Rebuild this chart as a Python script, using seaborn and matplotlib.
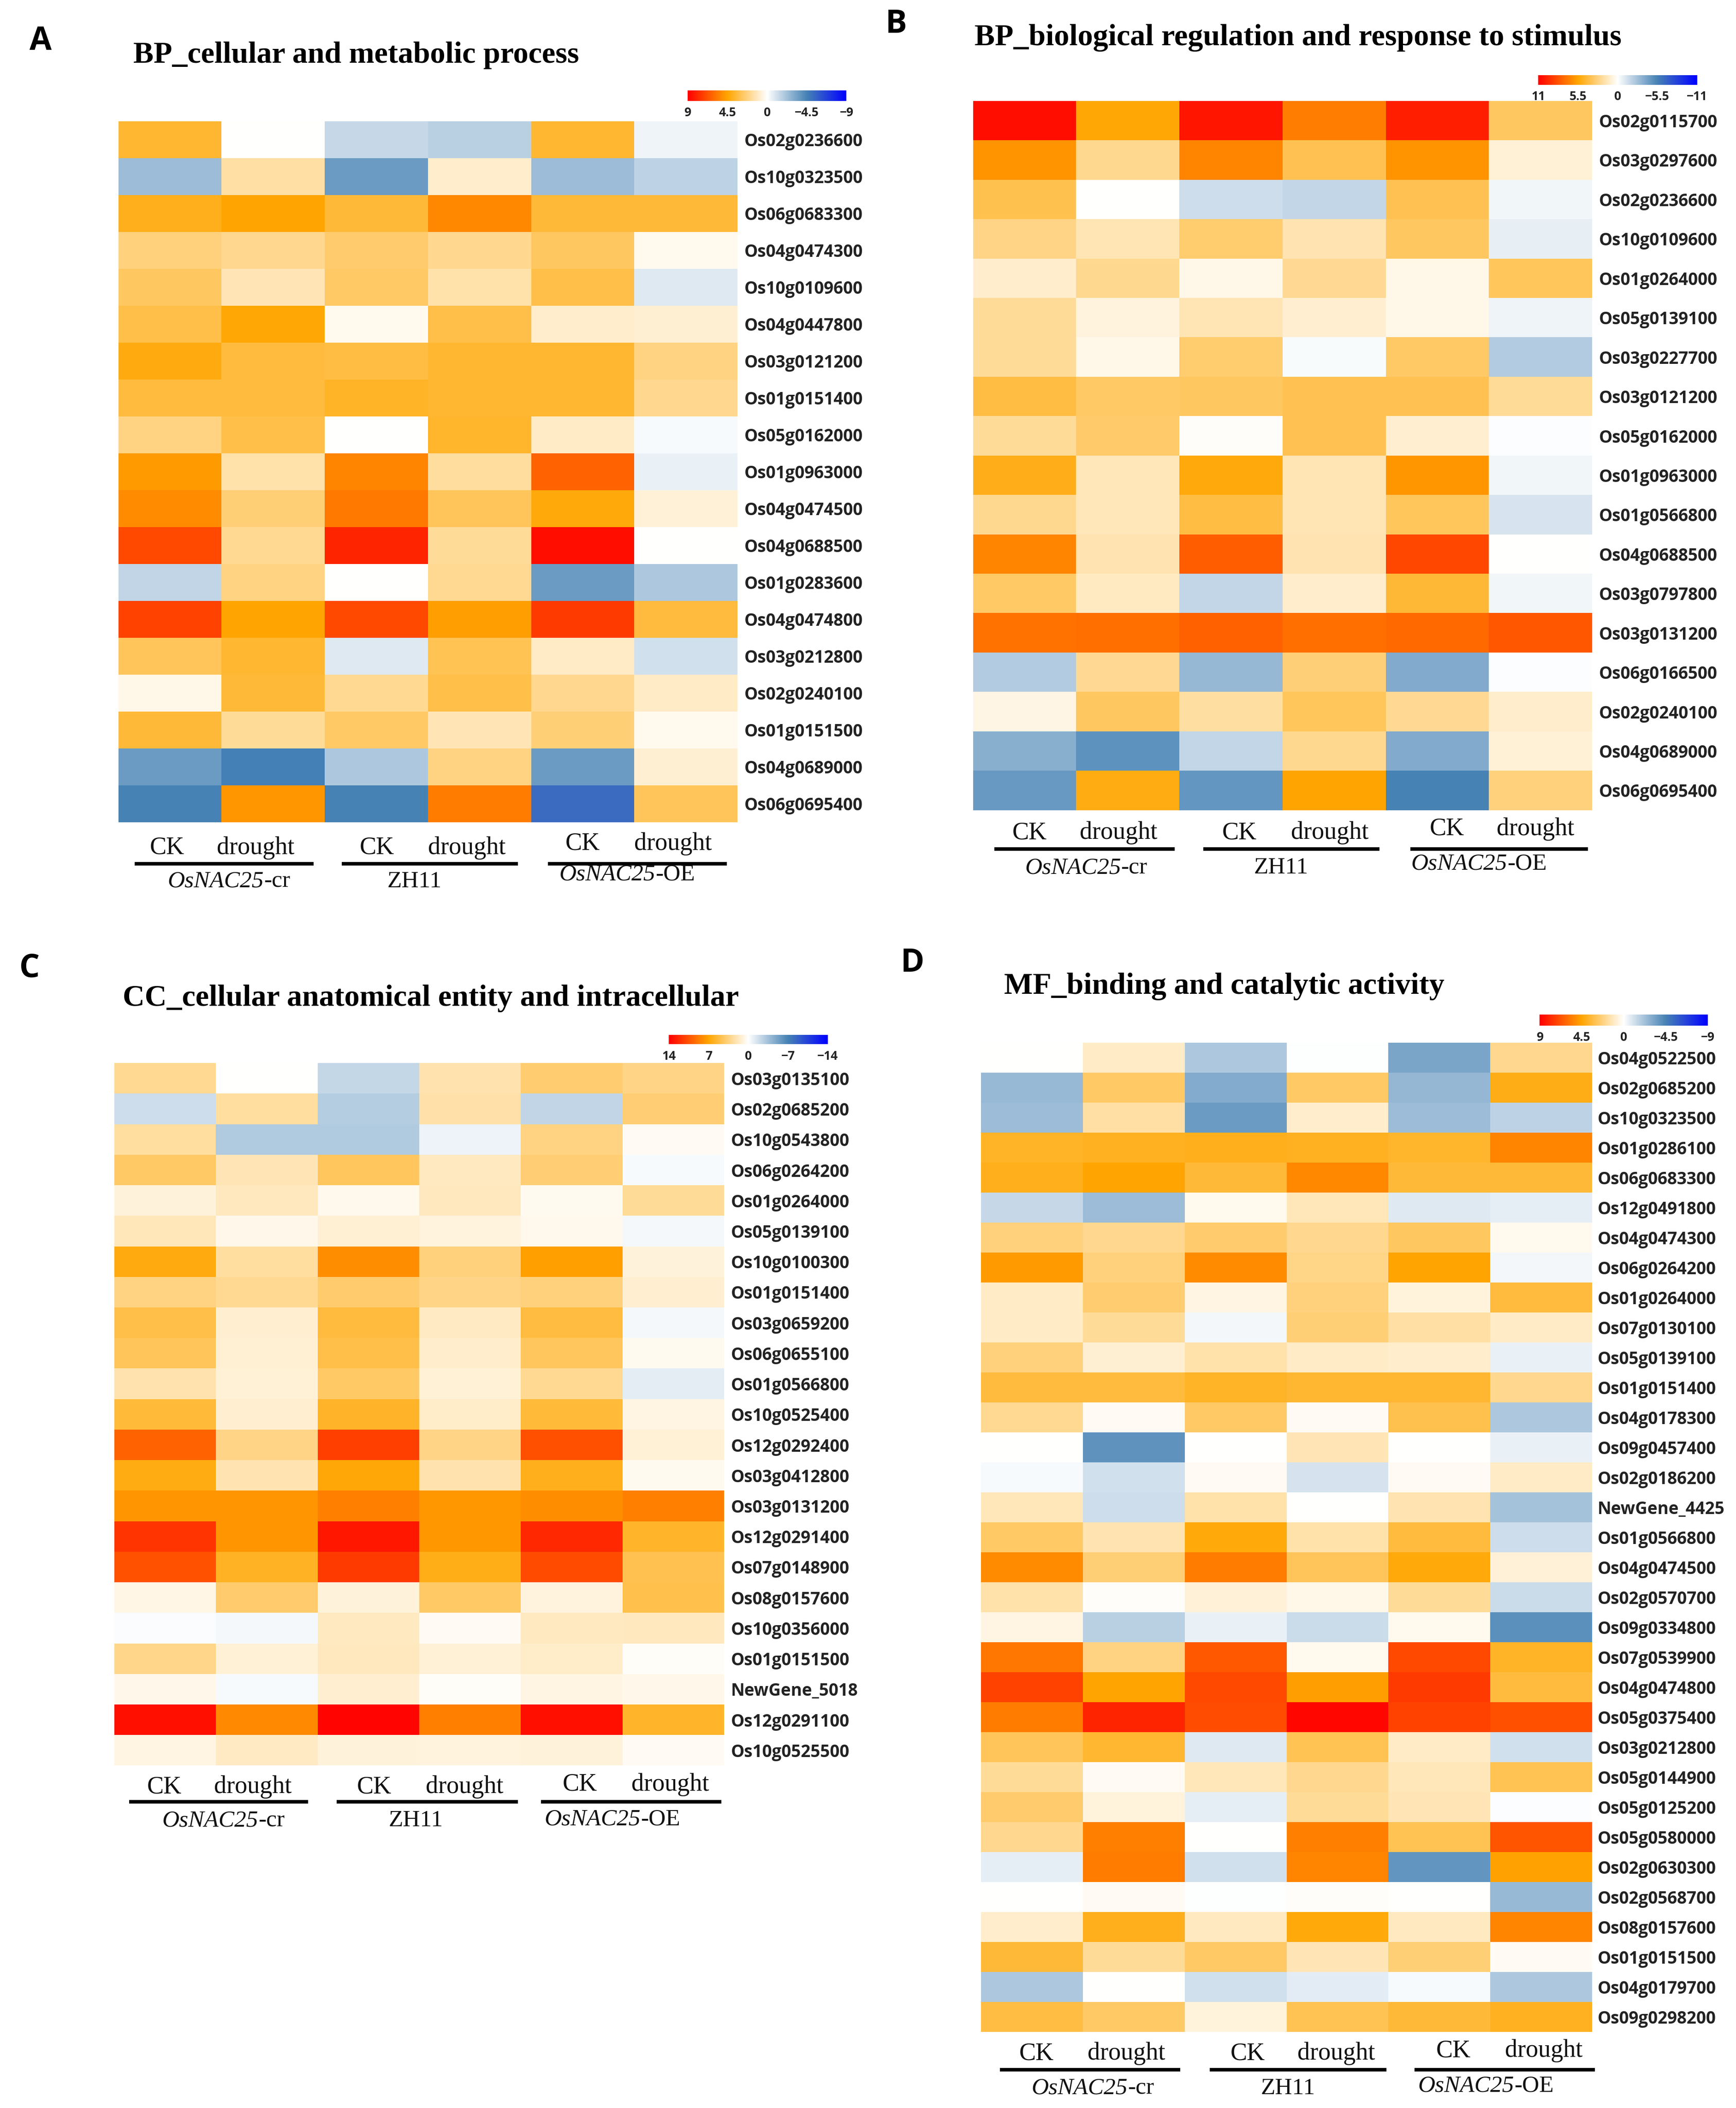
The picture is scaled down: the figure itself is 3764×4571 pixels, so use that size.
import numpy as np
import pandas as pd
import matplotlib
matplotlib.use("Agg")
import matplotlib.pyplot as plt
from matplotlib.colors import LinearSegmentedColormap
import seaborn as sns

sns.set_theme(style="white")

columns = ["CK cr", "drought cr", "CK ZH11", "drought ZH11", "CK OE", "drought OE"]

genes_a = ["Os02g0236600","Os10g0323500","Os06g0683300","Os04g0474300","Os10g0109600","Os04g0447800",
           "Os03g0121200","Os01g0151400","Os05g0162000","Os01g0963000","Os04g0474500","Os04g0688500",
           "Os01g0283600","Os04g0474800","Os03g0212800","Os02g0240100","Os01g0151500","Os04g0689000","Os06g0695400"]
values_a = [
 [3.6,0,-1.4,-1.7,3.6,-0.4],
 [-2.4,1.6,-3.6,0.9,-2.4,-1.6],
 [4.0,4.5,3.5,5.3,3.5,3.5],
 [2.3,2.0,2.6,2.0,2.8,0.3],
 [2.8,1.3,2.7,1.5,3.2,-0.8],
 [3.2,4.4,0.3,3.2,0.9,0.8],
 [4.2,3.4,3.3,3.6,3.6,2.2],
 [3.4,3.4,3.8,3.6,3.6,2.0],
 [2.2,3.2,0,3.7,1.0,-0.2],
 [4.8,1.5,5.4,1.7,6.3,-0.5],
 [5.2,2.4,5.7,2.9,4.3,0.7],
 [7.0,1.9,8.0,1.8,8.6,0],
 [-1.5,2.2,0,1.9,-3.6,-2.0],
 [7.2,4.5,7.0,4.7,7.4,3.4],
 [2.9,3.6,-0.8,3.0,1.0,-1.1],
 [0.4,3.5,1.9,3.2,2.0,1.0],
 [3.5,1.8,2.7,1.3,2.4,0.3],
 [-3.6,-4.6,-2.0,2.2,-3.6,0.8],
 [-4.5,4.9,-4.5,5.6,-5.3,2.9],
]

genes_b = ["Os02g0115700","Os03g0297600","Os02g0236600","Os10g0109600","Os01g0264000","Os05g0139100",
           "Os03g0227700","Os03g0121200","Os05g0162000","Os01g0963000","Os01g0566800","Os04g0688500",
           "Os03g0797800","Os03g0131200","Os06g0166500","Os02g0240100","Os04g0689000","Os06g0695400"]
values_b = [
 [10.5,5.4,10.3,6.8,10,3.4],
 [6.1,2.4,6.6,3.7,6.1,0.9],
 [3.8,0,-1.5,-1.8,3.7,-0.4],
 [2.6,1.6,3.1,1.7,3.4,-0.7],
 [1.1,2.4,0.5,2.3,0.5,3.5],
 [2.2,0.7,1.6,1,0.5,-0.5],
 [2.2,0.5,3.1,-0.2,3.3,-2.3],
 [4,3.3,3.4,3.7,3.7,2.2],
 [2.2,3.2,0.1,3.7,1,-0.1],
 [4.9,1.5,5.2,1.6,6,-0.4],
 [2.4,1.5,4,1.6,3.5,-1.2],
 [6.6,1.7,7.9,1.7,8.6,0],
 [3.3,1.3,-1.8,1.1,4.3,-0.4],
 [7.2,7.3,7.8,7.3,7.5,8.1],
 [-2.3,2.3,-3.1,2.9,-3.7,-0.1],
 [0.6,3.4,2,3.5,2.3,1.1],
 [-3.5,-4.8,-1.8,2.4,-3.7,0.9],
 [-4.5,5.1,-4.6,5.5,-5.5,2.8],
]

genes_c = ["Os03g0135100","Os02g0685200","Os10g0543800","Os06g0264200","Os01g0264000","Os05g0139100",
           "Os10g0100300","Os01g0151400","Os03g0659200","Os06g0655100","Os01g0566800","Os10g0525400",
           "Os12g0292400","Os03g0412800","Os03g0131200","Os12g0291400","Os07g0148900","Os08g0157600",
           "Os10g0356000","Os01g0151500","NewGene_5018","Os12g0291100","Os10g0525500"]
values_c = [
 [3.0,0,-2.2,2.2,3.9,3.3],
 [-1.9,2.6,-2.8,2.4,-2.3,3.8],
 [2.6,-3.0,-3.0,-0.7,3.4,0.3],
 [4.2,2.0,4.4,1.7,3.8,-0.3],
 [1.0,1.8,0.5,1.8,0.4,2.8],
 [1.9,0.6,1.2,0.9,0.5,-0.4],
 [6.6,2.6,8.0,3.6,7.2,1.0],
 [3.4,3.0,4.0,3.3,3.6,1.3],
 [5.0,1.3,5.3,1.6,5.2,-0.4],
 [4.5,1.2,5.0,1.4,4.4,0.4],
 [2.2,1.1,4.2,1.1,3.0,-1.0],
 [5.4,1.3,5.9,1.5,5.4,0.8],
 [9.8,3.3,11.3,3.3,10.6,1.1],
 [6.5,2.1,6.8,2.2,6.2,0.4],
 [7.7,7.7,8.6,7.6,8.0,8.6],
 [11.8,7.7,13.0,7.5,12.3,5.8],
 [10.5,6.0,11.5,6.3,10.8,4.8],
 [0.7,4.0,1.0,4.2,0.9,4.9],
 [-0.2,-0.4,1.7,0.3,1.7,1.8],
 [3.2,1.1,1.8,1.1,1.5,0.2],
 [0.6,-0.3,1.3,0.2,0.8,0.6],
 [13.3,8.2,13.8,8.6,13.3,5.8],
 [0.8,1.6,1.0,0.9,1.0,0.3],
]

genes_d = ["Os04g0522500","Os02g0685200","Os10g0323500","Os01g0286100","Os06g0683300","Os12g0491800",
           "Os04g0474300","Os06g0264200","Os01g0264000","Os07g0130100","Os05g0139100","Os01g0151400",
           "Os04g0178300","Os09g0457400","Os02g0186200","NewGene_4425","Os01g0566800","Os04g0474500",
           "Os02g0570700","Os09g0334800","Os07g0539900","Os04g0474800","Os05g0375400","Os03g0212800",
           "Os05g0144900","Os05g0125200","Os05g0580000","Os02g0630300","Os02g0568700","Os08g0157600",
           "Os01g0151500","Os04g0179700","Os09g0298200"]
values_d = [
 [0,1.0,-2.0,-0.05,-3.2,2.0],
 [-2.5,2.7,-3.0,2.7,-2.6,4.1],
 [-2.4,1.6,-3.6,0.9,-2.4,-1.6],
 [3.8,3.9,4.0,3.9,3.7,5.4],
 [4.0,4.5,3.5,5.3,3.5,3.5],
 [-1.4,-2.4,0.3,1.2,-0.8,-0.6],
 [2.3,2.0,2.6,2.0,2.8,0.3],
 [4.8,2.3,5.2,2.1,4.5,-0.3],
 [1.0,2.5,0.5,2.3,0.6,3.4],
 [1.0,1.8,-0.3,2.4,1.6,1.0],
 [2.3,0.8,1.5,1.0,0.9,-0.5],
 [3.4,3.4,3.8,3.6,3.6,2.0],
 [1.9,0.2,2.7,0.2,3.1,-2.0],
 [0,-3.9,0,1.3,0,-0.5],
 [-0.2,-1.1,0.2,-1.0,0.2,1.0],
 [1.2,-1.2,1.5,0,1.4,-2.2],
 [2.7,1.4,4.3,1.5,3.4,-1.2],
 [5.2,2.4,5.6,2.9,4.3,0.7],
 [1.5,0.1,0.7,0.4,1.8,-1.3],
 [0.5,-1.7,-0.5,-1.3,0.3,-4.0],
 [5.8,2.2,6.6,0.3,7.0,3.8],
 [7.2,4.5,7.0,4.7,7.4,3.4],
 [5.6,8.0,6.9,8.8,7.2,6.8],
 [2.9,3.6,-0.8,3.0,1.0,-1.1],
 [1.8,0.2,1.2,2.0,1.2,3.0],
 [2.6,0.6,-0.6,1.8,1.3,-0.1],
 [2.0,5.5,0,5.5,3.0,6.7],
 [-0.6,5.6,-1.1,5.4,-3.8,4.6],
 [0,0.2,-0.05,0.1,0,-2.5],
 [0.9,4.0,1.1,4.3,1.1,5.4],
 [3.5,1.8,2.7,1.3,2.4,0.2],
 [-2.0,0,-1.1,-0.7,-0.2,-2.0],
 [3.3,2.7,0.6,3.0,3.5,3.9],
]

cmap = LinearSegmentedColormap.from_list(
    "bwo", [(0, "#0000FF"), (0.25, "#4682B4"), (0.5, "#FFFFFF"), (0.75, "#FFA500"), (1, "#FF0000")], N=512)

PX = 3764; PY = 4571
S = 2.918  # layout below is given in units of S pixels
fig = plt.figure(figsize=(PX / 100, PY / 100), dpi=100, facecolor="white")

def axrect(x0, y0, x1, y1):
    return [x0 * S / PX, 1 - y1 * S / PY, (x1 - x0) * S / PX, (y1 - y0) * S / PY]

over = fig.add_axes([0, 0, 1, 1], zorder=5)
over.set_xlim(0, PX / S); over.set_ylim(PY / S, 0); over.axis("off"); over.patch.set_alpha(0)

SERIF = "Liberation Serif"
SANS = "Open Sans"
renderer = fig.canvas.get_renderer()

def group_label(cx, y, italic, plain, size=37):
    """Centred label with an italic gene name followed by an upright suffix."""
    a = over.text(0, y, italic, fontfamily=SERIF, fontstyle="italic", fontsize=size, color="#111111", ha="left", va="center")
    b = over.text(0, y, plain, fontfamily=SERIF, fontsize=size, color="#111111", ha="left", va="center")
    wa = a.get_window_extent(renderer).width / S
    wb = b.get_window_extent(renderer).width / S
    a.set_x(cx - (wa + wb) / 2)
    b.set_x(cx - (wa + wb) / 2 + wa)

def panel(letter, lpos, title, tpos, genes, values, vmax, box, cbox, ck, group, lines, lbl_x):
    ax = fig.add_axes(axrect(*box))
    cax = fig.add_axes(axrect(*cbox))
    df = pd.DataFrame(values, index=genes, columns=columns)
    sns.heatmap(df, ax=ax, cmap=cmap, vmin=-vmax, vmax=vmax, cbar_ax=cax,
                cbar_kws={"orientation": "horizontal"}, xticklabels=False, yticklabels=True,
                linewidths=0)
    ax.set_xlabel(""); ax.set_ylabel("")
    ax.yaxis.tick_right()
    ax.tick_params(axis="y", length=0, pad=(lbl_x - box[2]) * S * 0.72, labelrotation=0)
    for t in ax.get_yticklabels():
        t.set_fontfamily(SANS); t.set_fontweight("bold"); t.set_fontsize(26.5); t.set_color("#222222")
    # legend bar: high values on the left
    cax.invert_xaxis()
    ticks = [vmax, vmax / 2, 0, -vmax / 2, -vmax]
    cax.set_xticks(ticks)
    cax.set_xticklabels([f"{t:g}".replace("-", "\u2212") for t in ticks], fontfamily=SANS,
                        fontweight="bold", fontsize=19, color="#222222")
    cax.tick_params(axis="x", length=0, pad=9)
    for s in cax.spines.values():
        s.set_visible(False)
    # annotations
    over.text(*lpos, letter, fontfamily=SANS, fontweight="bold", fontsize=50, color="black", ha="center", va="center")
    over.text(*tpos, title, fontfamily=SERIF, fontweight="bold", fontsize=47.5, color="black", ha="left", va="center")
    for (x, y, s) in ck:
        over.text(x, y, s, fontfamily=SERIF, fontsize=39, color="#111111", ha="center", va="center")
    for (x, y, a, b) in group:
        group_label(x, y, a, b)
    for (x0, x1, y) in lines:
        over.plot([x0, x1], [y, y], color="black", lw=5.5, solid_capstyle="butt")

panel("A", (30, 31), "BP_cellular and metabolic process", (99, 41), genes_a, values_a, 9,
      (88, 90, 548, 611), (511, 67, 629, 75),
      [(124,630,"CK"),(190,630,"drought"),(280,630,"CK"),(347,630,"drought"),(433,627,"CK"),(500,627,"drought")],
      [(170,655,"OsNAC25","-cr"),(308,655,"","ZH11"),(466,650,"OsNAC25","-OE")],
      [(100,233,642),(254,385,642),(407,540,642)], 553)

panel("B", (666, 18), "BP_biological regulation and response to stimulus", (724, 28), genes_b, values_b, 11,
      (723, 75, 1183, 602), (1143, 56, 1261, 63),
      [(765,619,"CK"),(831,619,"drought"),(921,619,"CK"),(988,619,"drought"),(1075,616,"CK"),(1141,616,"drought")],
      [(807,645,"OsNAC25","-cr"),(952,645,"","ZH11"),(1099,642,"OsNAC25","-OE")],
      [(739,873,631),(894,1025,631),(1048,1180,631)], 1188)

panel("C", (22, 720), "CC_cellular anatomical entity and intracellular", (91, 742), genes_c, values_c, 14,
      (85, 790, 538, 1312), (497, 769, 615, 776),
      [(122,1328,"CK"),(188,1328,"drought"),(278,1328,"CK"),(345,1328,"drought"),(431,1326,"CK"),(498,1326,"drought")],
      [(166,1353,"OsNAC25","-cr"),(309,1353,"","ZH11"),(455,1352,"OsNAC25","-OE")],
      [(96,229,1339),(250,385,1339),(402,536,1339)], 543)

panel("D", (678, 716), "MF_binding and catalytic activity", (746, 733), genes_d, values_d, 9,
      (729, 775, 1183, 1510), (1144, 754, 1269, 762),
      [(770,1526,"CK"),(837,1526,"drought"),(927,1526,"CK"),(993,1526,"drought"),(1080,1524,"CK"),(1147,1524,"drought")],
      [(812,1552,"OsNAC25","-cr"),(957,1552,"","ZH11"),(1104,1550,"OsNAC25","-OE")],
      [(743,877,1538),(899,1030,1538),(1051,1185,1538)], 1187)

fig.savefig("out.png", dpi=100, facecolor="white")
